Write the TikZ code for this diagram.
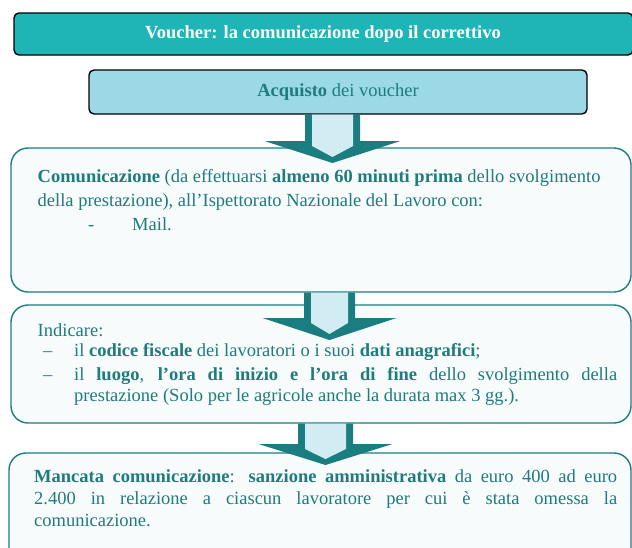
\documentclass[tikz,border=0pt]{standalone}
\usepackage{fontspec}
\setmainfont{Liberation Serif}
\definecolor{titlefill}{HTML}{1FB5B6}
\definecolor{acqfill}{HTML}{9AD9E5}
\definecolor{tealdark}{HTML}{1A7E80}
\definecolor{arrowfill}{HTML}{D2ECF3}
\definecolor{boxfill}{HTML}{F7FBFB}
\definecolor{txt}{HTML}{1F7B7C}
\newcommand\vchevron[6]{% left, right, top, headtop, tip, wing
  \pgfmathsetmacro\cx{(#1+#2)/2}
  \fill[tealdark] (#1,#3) -- (#1,#4) -- (\cx-#6,#4) -- (\cx,#5) -- (\cx+#6,#4) -- (#2,#4) -- (#2,#3) -- cycle;
  \fill[arrowfill] (#1+7,#3) -- (#1+7,#4+5) -- (\cx,#5-6) -- (#2-7,#4+5) -- (#2-7,#3) -- cycle;
}
\begin{document}
\begin{tikzpicture}[x=1pt,y=-1pt,
  every node/.style={inner sep=0pt, font=\fontsize{18.5}{22}\selectfont, text=txt},
  bigbox/.style={draw=tealdark, line width=1.4pt, fill=boxfill, rounded corners=17pt},
  line/.style={anchor=base west}]
\clip (0,0) rectangle (632,547);
\useasboundingbox (0,0) rectangle (632,547);
% title
\draw[fill=titlefill, line width=1.4pt, rounded corners=5pt] (14,13) rectangle (633,55);
\node[text=white, font=\fontsize{18.5}{22}\selectfont\bfseries] (title) at (323,34.5) {Voucher: la comunicazione dopo il correttivo};
% acquisto
\draw[fill=acqfill, line width=1.4pt, rounded corners=5pt] (89,70) rectangle (587,114);
\node (acq) at (338,92.5) {\textbf{Acquisto} dei voucher};
% boxes
\draw[bigbox] (11,148) rectangle (631,292);
\draw[bigbox] (11,305) rectangle (631,423);
\draw[bigbox] (9,453) rectangle (631,575);
% arrows
\vchevron{305}{360}{114.7}{141}{163}{68}
\vchevron{304}{355}{292.7}{318}{340}{67}
\vchevron{298}{353}{423.7}{444}{465}{67}
% box 2
\node[line] (c1) at (37.5,182.5) {\textbf{Comunicazione} (da effettuarsi \textbf{almeno 60 minuti prima} dello svolgimento};
\node[line] (c2) at (37.5,206.5) {della prestazione), all’Ispettorato Nazionale del Lavoro con:};
\node[line] (c3a) at (88,230.5) {-};
\node[line] (c3) at (132,230.5) {Mail.};
% box 3
\node[line] (i0) at (37.5,336.5) {Indicare:};
\node[line] (i1b) at (43,356.5) {–};
\node[line] (i1) at (74,356.5) {il \textbf{codice fiscale} dei lavoratori o i suoi \textbf{dati anagrafici};};
\node[line] (i2b) at (43,380) {–};
\node[line] (i2) at (74,380) {\makebox[543pt][s]{il \textbf{luogo}, \textbf{l’ora di inizio e l’ora di fine} dello svolgimento della}};
\node[line] (i3) at (74,401.5) {prestazione (Solo per le agricole anche la durata max 3 gg.).};
% box 4
\node[line] (m1) at (34,482) {\makebox[583pt][s]{\textbf{Mancata comunicazione}: \textbf{sanzione amministrativa} da euro 400 ad euro}};
\node[line] (m2) at (34,504) {\makebox[583pt][s]{2.400 in relazione a ciascun lavoratore per cui è stata omessa la}};
\node[line] (m3) at (34,526) {comunicazione.};
\end{tikzpicture}
\end{document}
